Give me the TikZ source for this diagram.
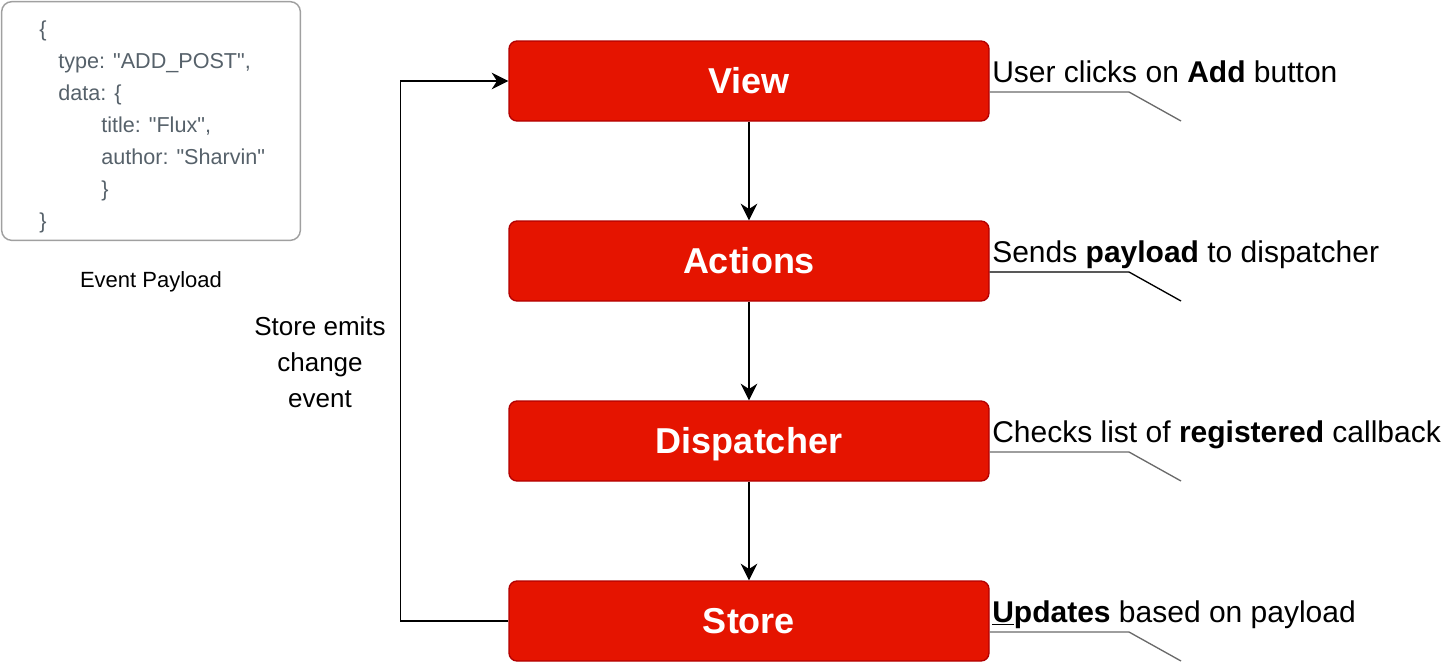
\documentclass[tikz,border=0pt]{standalone}
\usepackage{fontspec}
\setmainfont{Liberation Sans}
\newfontfamily\codefont{Liberation Sans}[Ligatures=TeXOff]
\usetikzlibrary{arrows.meta,calc}
\definecolor{fluxred}{HTML}{E51400}
\definecolor{fluxborder}{HTML}{B20000}
\definecolor{codegray}{HTML}{56616A}
\definecolor{boxgray}{HTML}{A0A0A0}
\definecolor{callgray}{HTML}{6A6A6A}
\tikzset{
  fluxbox/.style={draw=fluxborder, fill=fluxred, line width=1pt, rounded corners=6pt,
    minimum width=360pt, minimum height=60pt, text=white,
    font=\fontsize{27}{32}\selectfont\bfseries, text height=19.4pt, text depth=0pt, inner sep=0pt},
  arr/.style={draw=black, line width=1.1pt, -{Stealth[length=12.5pt,width=12.5pt,inset=4pt]}},
  callline/.style={draw=callgray, line width=1pt},
  calltext/.style={font=\fontsize{22.5}{27}\selectfont, anchor=base west, inner sep=0pt},
  codetext/.style={font=\codefont\fontsize{16.2}{19}\selectfont, text=codegray, anchor=base west, inner sep=0pt},
}
\begin{document}
\begin{tikzpicture}[x=0.75pt,y=-0.75pt]
\useasboundingbox (0,0) rectangle (1442,664);

% payload box
\node[draw=boxgray, line width=1.1pt, rounded corners=7.5pt, minimum width=224pt, minimum height=179pt, inner sep=0pt] (payload) at (151,121) {};
\node[codetext] (p1) at (39,36) {\{};
\node[codetext] (p2) at (58,68) {type: "ADD\_POST",};
\node[codetext] (p3) at (58,100) {data: \{};
\node[codetext] (p4) at (101,132) {title: "Flux",};
\node[codetext] (p5) at (101,164) {author: "Sharvin"};
\node[codetext] (p6) at (101,196) {\}};
\node[codetext] (p7) at (39,228) {\}};
\node[font=\fontsize{16.5}{20}\selectfont, anchor=base, inner sep=0pt] (evlabel) at (151,287) {Event Payload};

% flux boxes
\node[fluxbox] (view) at (749,81) {View};
\node[fluxbox] (act) at (749,261) {Actions};
\node[fluxbox] (disp) at (749,441) {Dispatcher};
\node[fluxbox] (store) at (749,621) {Store};

\draw[arr] (view) -- (act);
\draw[arr] (act) -- (disp);
\draw[arr] (disp) -- (store);
\draw[arr] (store.west) -- ++(-108,0) |- (view.west);

\node[font=\fontsize{19.5}{27}\selectfont, align=center, anchor=base, inner sep=0pt] (emit) at (320,407) {Store emits\\change\\event};

% callouts
\foreach \n/\y/\c in {view/81/callgray, act/261/black, disp/441/callgray, store/621/callgray}{
  \coordinate (\n-b) at (1129,\y+11);
  \coordinate (\n-c) at (1181,\y+40);
  \draw[callline, draw=\c] ($(\n.east)+(0,11)$) -- (\n-b) -- (\n-c);
}
\node[calltext] (t1) at (992,82) {User clicks on \textbf{Add} button};
\node[calltext] (t2) at (992,262) {Sends \textbf{payload} to dispatcher};
\node[calltext] (t3) at (992,442) {Checks list of \textbf{registered} callback};
\node[calltext] (t4) at (992,622) {\textbf{\underline{U}pdates} based on payload};
\end{tikzpicture}
\end{document}
